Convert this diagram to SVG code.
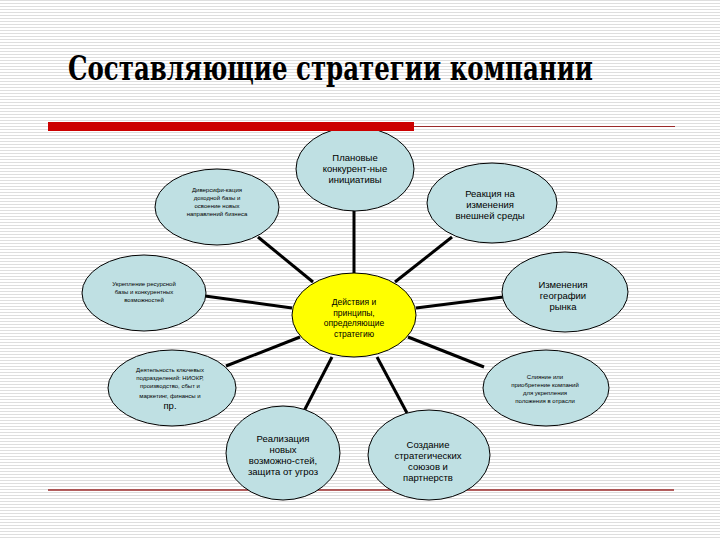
<svg xmlns="http://www.w3.org/2000/svg" width="720" height="540" viewBox="0 0 720 540">
<defs>
<pattern id="stripes" width="720" height="3" patternUnits="userSpaceOnUse">
<rect width="720" height="3" fill="#ffffff"/>
<rect y="0" width="720" height="1" fill="#dedede"/>
</pattern>
<style>
.node{fill:#bfe0e3;stroke:#000;stroke-width:1}
.center{fill:#ffff00;stroke:#000;stroke-width:1}
.conn line{stroke:#000;stroke-width:3;stroke-linecap:butt}
.big{font-family:"Liberation Sans",Arial,sans-serif;font-size:9.5px;fill:#000;text-anchor:middle}
.small{font-family:"Liberation Sans",Arial,sans-serif;font-size:6px;fill:#000;text-anchor:middle}
</style>
</defs>
<rect width="720" height="540" fill="url(#stripes)"/>
<text x="68" y="80" font-family="'DejaVu Serif', 'Liberation Serif', serif" font-weight="bold" font-size="34" fill="#000" textLength="525" lengthAdjust="spacingAndGlyphs">Составляющие стратегии компании</text>
<line x1="414" y1="126.5" x2="675" y2="126.5" stroke="#9a2a2a" stroke-width="1.2"/>
<line x1="48" y1="490" x2="674" y2="490" stroke="#9a2a2a" stroke-width="1.5"/>

<g id="connectors" class="conn">
<line x1="354" y1="210" x2="354" y2="274"/>
<line x1="258" y1="237" x2="313" y2="282"/>
<line x1="452" y1="237" x2="395" y2="282"/>
<line x1="205" y1="296" x2="292" y2="308"/>
<line x1="416" y1="308" x2="503" y2="297"/>
<line x1="300" y1="337" x2="226" y2="366"/>
<line x1="408" y1="337" x2="484" y2="367"/>
<line x1="332" y1="357" x2="303" y2="413"/>
<line x1="377" y1="357" x2="407" y2="413"/>
</g>

<g id="n-top">
<ellipse class="node" cx="355" cy="169" rx="59" ry="42"/>
<text class="big" x="355" y="161">Плановые</text>
<text class="big" x="355" y="172">конкурент-ные</text>
<text class="big" x="355" y="183">инициативы</text>
</g>
<rect x="48" y="122" width="366" height="9" fill="#cc0000"/>

<g id="n-diversif">
<ellipse class="node" cx="217" cy="207" rx="62" ry="38"/>
<text class="small" x="217" y="192">Диверсифи-кация</text>
<text class="small" x="217" y="200">доходной базы и</text>
<text class="small" x="217" y="208">освоение новых</text>
<text class="small" x="217" y="216">направлений бизнеса</text>
</g>

<g id="n-reaction">
<ellipse class="node" cx="492" cy="203" rx="65" ry="40"/>
<text class="big" x="490" y="197">Реакция на</text>
<text class="big" x="490" y="208">изменения</text>
<text class="big" x="490" y="219">внешней среды</text>
</g>

<g id="n-ukrepl">
<ellipse class="node" cx="144" cy="293" rx="62" ry="38"/>
<text class="small" x="144" y="286">Укрепление ресурсной</text>
<text class="small" x="144" y="294">базы и конкурентных</text>
<text class="small" x="144" y="302">возможностей</text>
</g>

<g id="n-geo">
<ellipse class="node" cx="565" cy="292" rx="63" ry="40"/>
<text class="big" x="563" y="288">Изменения</text>
<text class="big" x="563" y="299">географии</text>
<text class="big" x="563" y="310">рынка</text>
</g>

<g id="n-center">
<ellipse class="center" cx="354" cy="315" rx="62" ry="42"/>
<text class="big" x="354" y="305" style="font-size:8.5px">Действия и</text>
<text class="big" x="354" y="316" style="font-size:8.5px">принципы,</text>
<text class="big" x="354" y="326" style="font-size:8.5px">определяющие</text>
<text class="big" x="354" y="337" style="font-size:8.5px">стратегию</text>
</g>

<g id="n-deyat">
<ellipse class="node" cx="172" cy="388" rx="64" ry="38"/>
<text class="small" x="170" y="372">Деятельность ключевых</text>
<text class="small" x="170" y="380">подразделений: НИОКР,</text>
<text class="small" x="170" y="388">производство, сбыт и</text>
<text class="small" x="170" y="398">маркетинг, финансы и</text>
<text class="big" x="170" y="409">пр.</text>
</g>

<g id="n-sliyanie">
<ellipse class="node" cx="546" cy="388" rx="63" ry="38"/>
<text class="small" x="545" y="379">Слияние или</text>
<text class="small" x="545" y="387">приобретение компаний</text>
<text class="small" x="545" y="395">для укрепления</text>
<text class="small" x="545" y="403">положения в отрасли</text>
</g>

<g id="n-realiz">
<ellipse class="node" cx="283" cy="453" rx="57" ry="47"/>
<text class="big" x="283" y="442">Реализация</text>
<text class="big" x="283" y="453">новых</text>
<text class="big" x="283" y="464">возможно-стей,</text>
<text class="big" x="283" y="475">защита от угроз</text>
</g>

<g id="n-sozdanie">
<ellipse class="node" cx="429" cy="455" rx="61" ry="45"/>
<text class="big" x="428" y="448">Создание</text>
<text class="big" x="428" y="459">стратегических</text>
<text class="big" x="428" y="470">союзов и</text>
<text class="big" x="428" y="481">партнерств</text>
</g>
</svg>
